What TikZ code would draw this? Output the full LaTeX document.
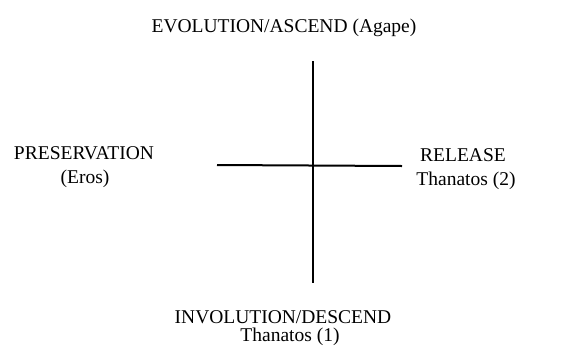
\documentclass[tikz,border=0pt]{standalone}
\usepackage{fontspec}
\setmainfont{Liberation Serif}
\usepackage{tikz}

\begin{document}
\begin{tikzpicture}[x=1pt,y=-1pt,
  lbl/.style={anchor=base, inner sep=0pt, font=\fontsize{19.5}{23}\selectfont}]
  \useasboundingbox (0,0) rectangle (579,346);
  % cross
  \coordinate (top) at (313,61);
  \coordinate (bot) at (313,283);
  \coordinate (lft) at (217,165);
  \coordinate (rgt) at (402,166);
  \draw[line width=2.8pt] (top) -- (bot);
  \draw[line width=2pt] (lft) -- (rgt);
  % labels
  \node[lbl] (evol) at (284,32) {EVOLUTION/ASCEND (Agape)};
  \node[lbl] (pres) at (84,159) {PRESERVATION};
  \node[lbl] (eros) at (85,183) {(Eros)};
  \node[lbl] (rel) at (463,161) {RELEASE};
  \node[lbl] (than2) at (466,185) {Thanatos (2)};
  \node[lbl] (invol) at (283,323) {INVOLUTION/DESCEND};
  \node[lbl] (than1) at (290,341) {Thanatos (1)};
\end{tikzpicture}
\end{document}
